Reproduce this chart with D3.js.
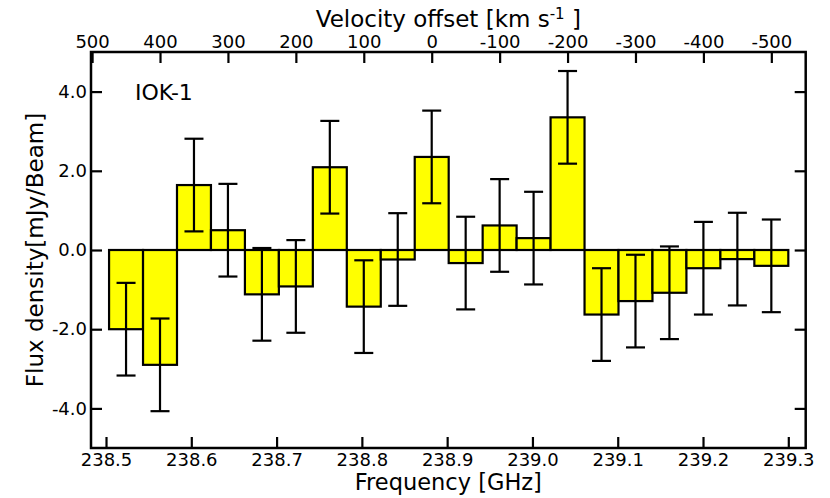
<!DOCTYPE html>
<html>
<head>
<meta charset="utf-8">
<script src="https://cdn.jsdelivr.net/npm/d3@7"></script>
<style>
  html, body { margin: 0; padding: 0; background: #fff; }
  svg { display: block; }
  text { font-family: "DejaVu Sans", sans-serif; fill: #000; }
</style>
</head>
<body>
<svg id="chart" width="830" height="498"></svg>
<script>
// ---- data ----
const velocities = [450, 400, 350, 300, 250, 200, 150, 100, 50, 0, -50, -100, -150, -200, -250, -300, -350, -400, -450, -500];
const flux = [-2.0, -2.9, 1.64, 0.50, -1.12, -0.92, 2.09, -1.43, -0.24, 2.35, -0.33, 0.62, 0.30, 3.35, -1.63, -1.29, -1.08, -0.46, -0.23, -0.40];
const fluxErr = [1.17, 1.17, 1.17, 1.17, 1.17, 1.17, 1.17, 1.17, 1.17, 1.17, 1.17, 1.17, 1.17, 1.17, 1.17, 1.17, 1.17, 1.17, 1.17, 1.17];
const freqTicks = [238.5, 238.6, 238.7, 238.8, 238.9, 239.0, 239.1, 239.2, 239.3];
const velTicks = [500, 400, 300, 200, 100, 0, -100, -200, -300, -400, -500];
const fluxTicks = [-4, -2, 0, 2, 4];
const sourceName = "IOK-1";

// ---- layout ----
const W = 830, H = 498;
const m = { left: 91, right: 24.3, top: 52, bottom: 50 };
const x0 = m.left, x1 = W - m.right, y0 = m.top, y1 = H - m.bottom;
const binHalf = 25; // km/s half channel width

const svg = d3.select("#chart");

const xF = d3.scaleLinear().domain([238.4824, 239.3204]).range([x0, x1]);
const xV = d3.scaleLinear().domain([501.6, -550.6]).range([x0, x1]);
const y = d3.scaleLinear().domain([-5, 5]).range([y1, y0]);

const data = velocities.map((v, i) => ({ v, f: flux[i], e: fluxErr[i] }));

// bars
svg.append("g").selectAll("rect").data(data).join("rect")
  .attr("x", d => xV(d.v + binHalf))
  .attr("width", d => xV(d.v - binHalf) - xV(d.v + binHalf))
  .attr("y", d => y(Math.max(0, d.f)))
  .attr("height", d => Math.abs(y(d.f) - y(0)))
  .attr("fill", "#ffff00")
  .attr("stroke", "#000")
  .attr("stroke-width", 2.2);

// error bars
const eg = svg.append("g").attr("stroke", "#000").attr("stroke-width", 2.2);
const capHalf = 9.5;
eg.selectAll("line.v").data(data).join("line").attr("class", "v")
  .attr("x1", d => xV(d.v)).attr("x2", d => xV(d.v))
  .attr("y1", d => y(d.f + d.e)).attr("y2", d => y(d.f - d.e));
eg.selectAll("line.t").data(data).join("line").attr("class", "t")
  .attr("x1", d => xV(d.v) - capHalf).attr("x2", d => xV(d.v) + capHalf)
  .attr("y1", d => y(d.f + d.e)).attr("y2", d => y(d.f + d.e));
eg.selectAll("line.b").data(data).join("line").attr("class", "b")
  .attr("x1", d => xV(d.v) - capHalf).attr("x2", d => xV(d.v) + capHalf)
  .attr("y1", d => y(d.f - d.e)).attr("y2", d => y(d.f - d.e));

// axes
const tickLen = 11;
const fs = 18;
function styleAxis(g) {
  g.select(".domain").remove();
  g.selectAll(".tick line").attr("stroke", "#000").attr("stroke-width", 2.2);
  g.selectAll(".tick text").attr("font-size", fs).attr("font-family", "DejaVu Sans").attr("fill", "#000");
}

const gB = svg.append("g").attr("transform", `translate(0,${y1})`)
  .call(d3.axisBottom(xF).tickValues(freqTicks).tickFormat(d => d.toFixed(1)).tickSize(-tickLen).tickPadding(6));
styleAxis(gB);
gB.selectAll(".tick text").attr("dy", null).attr("y", 18.3);

const gT = svg.append("g").attr("transform", `translate(0,${y0})`)
  .call(d3.axisTop(xV).tickValues(velTicks).tickFormat(d => String(d)).tickSize(-tickLen).tickPadding(4));
styleAxis(gT);
gT.selectAll(".tick text").attr("dy", null).attr("y", -4);

const gL = svg.append("g").attr("transform", `translate(${x0},0)`)
  .call(d3.axisLeft(y).tickValues(fluxTicks).tickFormat(d => d.toFixed(1)).tickSize(-tickLen).tickPadding(4));
styleAxis(gL);

const gR = svg.append("g").attr("transform", `translate(${x1},0)`)
  .call(d3.axisRight(y).tickValues(fluxTicks).tickFormat("").tickSize(-tickLen));
styleAxis(gR);

// frame
svg.append("rect")
  .attr("x", x0).attr("y", y0).attr("width", x1 - x0).attr("height", y1 - y0)
  .attr("fill", "none").attr("stroke", "#000").attr("stroke-width", 2.5);

// labels
svg.append("text")
  .attr("x", (x0 + x1) / 2).attr("y", 489.5)
  .attr("text-anchor", "middle").attr("font-size", 22.5)
  .text("Frequency [GHz]");

const vt = svg.append("text")
  .attr("x", (x0 + x1) / 2).attr("y", 27.3)
  .attr("text-anchor", "middle").attr("font-size", 23);
vt.append("tspan").text("Velocity offset [km s");
vt.append("tspan").attr("dy", -8).attr("font-size", 15).text("-1");
vt.append("tspan").attr("dy", 8).text(" ]");

svg.append("text")
  .attr("transform", `translate(43,${(y0 + y1) / 2}) rotate(-90)`)
  .attr("text-anchor", "middle").attr("font-size", 23)
  .text("Flux density[mJy/Beam]");

svg.append("text")
  .attr("x", 135).attr("y", 100)
  .attr("font-size", 22)
  .text(sourceName);
</script>
</body>
</html>
